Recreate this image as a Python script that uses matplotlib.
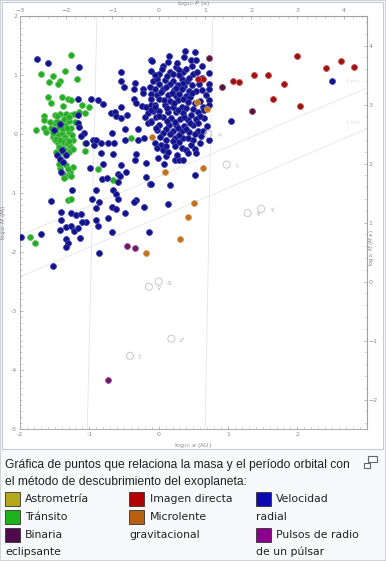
import matplotlib
matplotlib.use("Agg")
import matplotlib.pyplot as plt
from matplotlib.patches import Rectangle
from matplotlib.ticker import MultipleLocator

# ---- data: log10 a (AU), log10 M (M_J) ----
transito = [
    (-1.26, 1.34), (-1.69, 1.02), (-1.53, 0.99), (-1.58, 0.88), (-1.43, 0.89),
    (-1.45, 0.85), (-1.35, 1.07), (-1.18, 0.94), (-1.60, 0.62), (-1.55, 0.52),
    (-1.40, 0.63), (-1.31, 0.59), (-1.27, 0.57), (-1.38, 0.48), (-1.11, 0.50),
    (-1.00, 0.45), (-1.06, 0.35), (-1.65, 0.31), (-1.65, 0.24), (-1.57, 0.21),
    (-1.50, 0.33), (-1.42, 0.34), (-1.33, 0.34), (-1.27, 0.32), (-1.22, 0.34),
    (-1.15, 0.37), (-1.77, 0.06), (-1.65, 0.11), (-1.62, 0.04), (-1.48, 0.07),
    (-1.42, 0.14), (-1.35, 0.15), (-1.29, 0.22), (-1.52, -0.05), (-1.50, -0.10),
    (-1.45, -0.02), (-1.40, 0.01), (-1.35, -0.05), (-1.30, 0.04), (-1.26, 0.10),
    (-1.45, -0.16), (-1.38, -0.19), (-1.33, -0.10), (-1.28, -0.21), (-1.35, -0.27),
    (-1.29, -0.30), (-1.40, -0.24), (-1.23, -0.10), (-1.06, -0.16), (-1.06, -0.29),
    (-0.87, -0.60), (-1.42, -0.58), (-1.34, -0.53), (-1.28, -0.64), (-1.23, -0.56),
    (-1.33, -0.71), (-1.38, -0.68), (-1.27, -0.71), (-1.31, -1.12), (-1.26, -1.11),
    (-0.66, -0.78), (-0.40, -0.07), (-1.86, -1.75), (-1.78, -1.84),
    (-1.50, 0.18), (-1.46, 0.22), (-1.40, 0.20), (-1.36, 0.26), (-1.44, 0.12),
    (-1.38, 0.08), (-1.32, 0.10), (-1.48, -0.08), (-1.42, -0.10), (-1.37, -0.14),
    (-1.32, -0.16), (-1.44, -0.22), (-1.40, -0.30), (-1.34, -0.34), (-1.30, -0.12),
    (-1.25, -0.02), (-1.52, 0.02), (-1.46, 0.30), (-1.29, 0.28), (-1.55, 0.10),
    (-1.20, 0.20), (-1.24, -0.25), (-1.48, -0.30), (-1.44, -0.50), (-1.31, -0.60),
    (-1.37, -0.74),
]

velocidad_radial = [
    # left, sparse
    (-1.76, 1.27), (-1.59, 1.20), (-1.15, 1.14), (-1.17, 0.59), (-0.97, 0.60),
    (-1.17, 0.32), (-1.16, 0.19), (-1.42, 0.17), (-1.15, 0.12), (-1.51, 0.06),
    (-1.07, 0.02), (-1.12, -0.03), (-0.95, -0.10), (-0.93, -0.19), (-1.05, -0.15),
    (-1.46, -0.36), (-1.43, -0.43), (-1.38, -0.47), (-1.41, -0.64), (-1.40, -0.27),
    (-1.33, -0.36), (-0.99, -0.58), (-1.25, -0.95), (-1.55, -1.14), (-0.96, -1.11),
    (-1.41, -1.32), (-1.26, -1.34), (-1.41, -1.45), (-1.19, -1.37), (-1.12, -1.36),
    (-1.05, -1.49), (-1.11, -1.49), (-1.43, -1.63), (-1.33, -1.58), (-1.26, -1.56),
    (-1.22, -1.64), (-1.17, -1.60), (-1.13, -1.77), (-1.69, -1.69), (-1.33, -1.78),
    (-1.31, -1.85), (-1.33, -1.91), (-1.98, -1.75), (-1.53, -2.23),
    # middle, sparse
    (-0.54, 1.05), (-0.54, 0.90), (-0.34, 0.87), (-0.50, 0.79), (-0.36, 0.76),
    (-0.22, 0.77), (-0.23, 0.69), (-0.87, 0.58), (-0.80, 0.51), (-0.36, 0.59),
    (-0.32, 0.52), (-0.24, 0.47), (-0.54, 0.46), (-0.69, 0.35), (-0.63, 0.37),
    (-0.61, 0.31), (-0.46, 0.32), (-0.55, 0.27), (-0.20, 0.28),
    (-0.11, 1.25), (-0.11, 1.07), (-0.13, 0.79), (-0.08, 0.89), (-0.11, 0.67),
    (-0.18, 0.45), (-0.11, 0.49), (-0.15, 0.35), (-0.08, 0.39), (-0.11, 0.22),
    (-0.67, 0.01), (-0.49, 0.08), (-0.30, 0.08), (-0.15, 0.18), (-0.90, -0.11),
    (-0.83, -0.16), (-0.73, -0.16), (-0.64, -0.16), (-0.49, -0.11), (-0.30, -0.10),
    (-0.83, -0.33), (-0.66, -0.34), (-0.32, -0.34), (-0.34, -0.44), (-0.18, -0.49),
    (-0.80, -0.50), (-0.54, -0.53), (-0.47, -0.64), (-0.82, -0.77), (-0.75, -0.75),
    (-0.59, -0.67), (-0.56, -0.71), (-0.59, -0.81), (-0.19, -0.73), (-0.13, -0.84),
    (-0.90, -0.95), (-0.66, -0.95), (-0.62, -1.02), (-0.59, -1.11), (-0.32, -1.12),
    (-0.35, -1.16), (-0.86, -1.16), (-0.68, -1.24), (-0.61, -1.27), (-0.21, -1.24),
    (-0.90, -1.26), (-0.49, -1.34), (-0.73, -1.43), (-0.90, -1.46), (-0.87, -1.56),
    (-0.67, -1.66), (-0.14, -1.66), (-0.86, -2.01), (-0.21, -0.07),
    # main cluster
    (0.52, 1.39), (0.15, 1.33), (0.36, 1.30), (0.46, 1.25), (0.54, 1.25),
    (-0.09, 1.24), (0.48, 1.16), (0.06, 1.16), (0.25, 1.13), (0.35, 1.05),
    (0.17, 1.05), (0.20, 1.02), (0.01, 1.02), (0.29, 1.08), (0.49, 1.02),
    (0.72, 1.03), (-0.03, 0.94), (0.09, 0.92), (0.21, 0.89), (0.33, 0.94),
    (0.41, 0.90), (0.01, 0.85), (0.16, 0.85), (0.28, 0.83), (0.37, 0.81),
    (0.48, 0.83), (0.73, 0.85), (-0.06, 0.76), (0.06, 0.76), (0.22, 0.75),
    (0.33, 0.76), (0.44, 0.73), (0.54, 0.73), (0.72, 0.76), (-0.03, 0.66),
    (0.13, 0.66), (0.25, 0.64), (0.39, 0.64), (0.68, 0.66),
    (-0.11, 0.59), (0.01, 0.60), (0.17, 0.56), (0.28, 0.58), (0.35, 0.59),
    (0.45, 0.62), (0.59, 0.56), (0.73, 0.58), (-0.06, 0.49), (0.09, 0.49),
    (0.21, 0.46), (0.33, 0.46), (0.40, 0.44), (0.64, 0.46), (0.72, 0.49),
    (-0.11, 0.41), (0.01, 0.39), (0.13, 0.37), (0.25, 0.38), (0.35, 0.35),
    (0.47, 0.33), (0.57, 0.37), (-0.04, 0.29), (0.06, 0.28), (0.18, 0.27),
    (0.31, 0.25), (0.42, 0.24), (0.54, 0.25), (0.66, 0.27), (-0.11, 0.20),
    (0.01, 0.16), (0.15, 0.15), (0.25, 0.16), (0.37, 0.14), (0.49, 0.15),
    (0.70, 0.14), (-0.03, 0.07), (0.10, 0.08), (0.21, 0.05), (0.33, 0.05),
    (0.44, 0.03), (0.57, 0.05), (0.24, -0.06), (0.35, -0.07), (0.29, -0.13),
    (0.21, -0.12), (0.49, -0.10), (0.61, -0.03), (0.73, -0.10), (-0.06, -0.16),
    (0.04, -0.19), (-0.03, -0.24), (0.06, -0.27), (0.23, -0.21), (0.34, -0.24),
    (0.47, -0.19), (0.52, -0.25), (-0.01, -0.40), (0.07, -0.50), (0.23, -0.44),
    (0.29, -0.44), (0.35, -0.44), (0.52, -0.69), (0.40, -0.27), (0.54, -0.33),
    (0.11, -0.38), (0.11, -0.21),
    (0.05, 1.10), (0.12, 0.98), (0.30, 1.00), (0.40, 1.10), (0.55, 1.05),
    (0.63, 0.95), (0.58, 0.85), (0.10, 0.80), (0.25, 0.78), (0.48, 0.70),
    (0.62, 0.75), (0.03, 0.72), (0.19, 0.70), (0.30, 0.68), (0.42, 0.55),
    (0.52, 0.52), (0.08, 0.58), (0.22, 0.52), (0.28, 0.40), (0.50, 0.42),
    (0.60, 0.30), (0.12, 0.44), (0.00, 0.30), (0.12, 0.22), (0.24, 0.20),
    (0.36, 0.28), (0.45, 0.18), (0.57, 0.18), (0.06, 0.02), (0.16, 0.00),
    (0.28, 0.10), (0.40, 0.08), (0.52, 0.00), (0.64, 0.05), (0.10, -0.10),
    (0.30, -0.02), (0.43, -0.06), (0.60, -0.15), (0.13, -0.30), (0.26, -0.35),
    (0.42, -0.33), (0.02, -0.05), (0.65, 0.40), (-0.05, 0.45), (-0.04, 0.10),
    (0.14, 1.22), (0.27, 1.20), (0.38, 1.40), (0.62, 1.15), (0.44, 0.95),
    (-0.06, 1.00), (0.35, 0.86),
    # outliers
    (0.17, -0.86), (-0.11, -0.85), (0.13, -1.19), (1.04, 0.22), (2.50, 0.90),
]

imagen_directa = [
    (2.00, 1.33), (2.42, 1.12), (2.63, 1.23), (2.81, 1.14), (1.37, 1.00),
    (1.57, 1.00), (1.81, 0.85), (1.65, 0.60), (2.04, 0.47), (1.07, 0.90),
    (1.16, 0.88), (0.64, 0.93), (0.57, 0.93),
]
microlente = [
    (0.55, 0.55), (0.70, 0.42), (-0.09, -0.05), (0.64, -0.58), (0.09, -0.64),
    (0.51, -1.17), (0.43, -1.41), (0.31, -1.78), (-0.19, -2.02),
]
binaria = [(0.72, 1.28), (0.92, 0.80), (1.35, 0.39)]
pulsar = [(-0.45, -1.90), (-0.34, -1.93), (-0.73, -4.17)]

# solar system: log10 a (AU), log10 M (M_J), symbol
planetas = [
    (-0.412, -3.76, "☿"), (-0.141, -2.59, "♀"), (0.0, -2.50, "⊕"),
    (0.183, -3.47, "♂"), (0.716, 0.0, "♃"), (0.980, -0.52, "♄"),
    (1.283, -1.34, "♅"), (1.478, -1.27, "♆"),
]

leyenda = [
    ("Astrometría", "#b5a81a"), ("Tránsito", "#1db31d"), ("Binaria", "#4d0a4d"),
    ("Imagen directa", "#b30000"), ("Microlente", "#b8600f"),
    ("Velocidad", "#0a0ab0"), ("Pulsos de radio", "#8a008a"),
]

W, H = 386, 561
fig = plt.figure(figsize=(W / 100, H / 100), dpi=100, facecolor="#f8f9fa")

def fx(px):
    return px / W

def fy(py):
    return 1 - py / H

# white image box + outer frame (behind the axes)
fig.patches.append(Rectangle((fx(2), fy(449)), fx(381), 447 / H, transform=fig.transFigure,
                             facecolor="white", edgecolor="#c8ccd1", lw=0.8, zorder=-10))
fig.patches.append(Rectangle((0, 0), 1, 1, transform=fig.transFigure,
                             facecolor="none", edgecolor="#c8ccd1", lw=1.2, zorder=-9))

ax = fig.add_axes([fx(20), fy(429), (366.7 - 20) / W, (429 - 16) / H])
ax.set_zorder(1)
ax.set_xlim(-2, 3)
ax.set_ylim(-5, 2)
ax.set_facecolor("white")

grey = "#a0a0a0"
for s in ax.spines.values():
    s.set_color(grey)
    s.set_linewidth(0.6)

# faint guide lines
line_c = "#e8e8e8"
ax.plot([-2, 3], [-2.42, 0.085], color=line_c, lw=0.7, zorder=1)
ax.plot([-2, 3], [-1.72, 0.78], color=line_c, lw=0.7, zorder=1)
ax.plot([-0.89, -1.03], [2, -5], color=line_c, lw=0.7, zorder=1)
ax.plot([0.78, 0.67], [2, -5], color=line_c, lw=0.7, zorder=1)
ax.text(2.9, 0.16, "1 m/s", fontsize=3.5, color="#dddddd", ha="right", va="bottom")
ax.text(2.9, 0.85, "5 m/s", fontsize=3.5, color="#dddddd", ha="right", va="bottom")

def dots(pts, face, edge):
    ax.scatter([p[0] for p in pts], [p[1] for p in pts], s=18, c=face,
               edgecolors=edge, linewidths=0.6, zorder=3)

dots(transito, "#24ac24", "#66c466")
dots(velocidad_radial, "#12128c", "#4444aa")
dots(imagen_directa, "#a01212", "#c05050")
dots(microlente, "#c07020", "#d49a5a")
dots(binaria, "#5a1040", "#885070")
dots(pulsar, "#6a1a6a", "#9a5a9a")

ax.scatter([p[0] for p in planetas], [p[1] for p in planetas], s=26,
           facecolors="none", edgecolors="#c8c8c8", linewidths=0.7, zorder=3)
for a, m, sym in planetas:
    ax.text(a + 0.11, m - 0.03, sym, fontsize=4.2, color="#c0c0c0",
            ha="left", va="center", family=["DejaVu Sans"])

# ticks
tick_kw = dict(direction="in", colors=grey, labelsize=4.5, labelcolor="#8a8a8a", width=0.5)
ax.set_xticks([-2, -1, 0, 1, 2, 3])
ax.set_xticklabels(["-2", "-1", "0", "1", "2", ""])
ax.set_yticks(range(-5, 3))
ax.set_yticklabels([str(v) for v in range(-5, 3)])
ax.xaxis.set_minor_locator(MultipleLocator(0.1))
ax.yaxis.set_minor_locator(MultipleLocator(0.1))
ax.tick_params(which="major", length=2.5, pad=2, **tick_kw)
ax.tick_params(which="minor", length=1.2, direction="in", colors=grey, width=0.4)
ax.set_xlabel(r"$\log_{10}\,a$ (AU)", fontsize=4.5, color="#8a8a8a", labelpad=3)
ax.set_ylabel(r"$\log_{10}\,M$ ($M_J$)", fontsize=4.2, color="#8a8a8a")
ax.yaxis.set_label_coords(-0.028, 0.5)

top = ax.secondary_xaxis("top", functions=(lambda a: 1.5 * a, lambda p: p / 1.5))
top.set_xticks(range(-3, 5))
top.xaxis.set_minor_locator(MultipleLocator(0.2))
top.tick_params(which="major", length=2.5, pad=2, **tick_kw)
top.tick_params(which="minor", length=1.2, direction="in", colors=grey, width=0.4)
top.spines["top"].set_color(grey)
top.set_xlabel(r"$\log_{10}\,P$ (a)", fontsize=4.5, color="#8a8a8a", labelpad=2)

right = ax.secondary_yaxis("right", functions=(lambda m: m + 2.502, lambda e: e - 2.502))
right.set_yticks(range(-2, 5))
right.yaxis.set_minor_locator(MultipleLocator(0.2))
right.tick_params(which="major", length=2.5, pad=1.2, **tick_kw)
right.tick_params(which="minor", length=1.2, direction="in", colors=grey, width=0.4)
right.spines["right"].set_color(grey)
right.set_ylabel(r"$\log_{10}\,M$ ($M_\oplus$)", fontsize=4.0, color="#8a8a8a")
right.yaxis.set_label_coords(1.046, 0.44)

# caption
cap_kw = dict(fontsize=8.7, color="#202122", va="center", family=["Liberation Sans"])
fig.text(fx(5), fy(465), "Gráfica de puntos que relaciona la masa y el período orbital con", **cap_kw)
fig.text(fx(5), fy(482), "el método de descubrimiento del exoplaneta:", **cap_kw)

# enlarge icon
fig.patches.append(Rectangle((fx(368), fy(462)), 9 / W, 6 / H, transform=fig.transFigure,
                             facecolor="none", edgecolor="#666", lw=0.8))
fig.patches.append(Rectangle((fx(364), fy(468)), 6 / W, 5 / H, transform=fig.transFigure,
                             facecolor="#f8f9fa", edgecolor="#666", lw=0.8))

# legend
leg_kw = dict(fontsize=7.8, color="#202122", va="center", family=["DejaVu Sans"])
cols_sw = [5, 129, 256]
cols_tx = [25, 150, 276]
rows = [499, 517, 535, 552]
places = [(0, 0), (0, 1), (0, 2), (1, 0), (1, 1), (2, 0), (2, 2)]
for (label, colr), (c, r) in zip(leyenda, places):
    fig.patches.append(Rectangle((fx(cols_sw[c]), fy(rows[r] + 7)), 15 / W, 14 / H,
                                 transform=fig.transFigure, facecolor=colr,
                                 edgecolor="#333", lw=0.6))
    fig.text(fx(cols_tx[c]), fy(rows[r]), label, **leg_kw)
fig.text(fx(cols_sw[0]), fy(rows[3]), "eclipsante", **leg_kw)
fig.text(fx(cols_sw[1]), fy(rows[2]), "gravitacional", **leg_kw)
fig.text(fx(cols_sw[2]), fy(rows[1]), "radial", **leg_kw)
fig.text(fx(cols_sw[2]), fy(rows[3]), "de un púlsar", **leg_kw)

fig.savefig("out.png", dpi=100, facecolor=fig.get_facecolor())
